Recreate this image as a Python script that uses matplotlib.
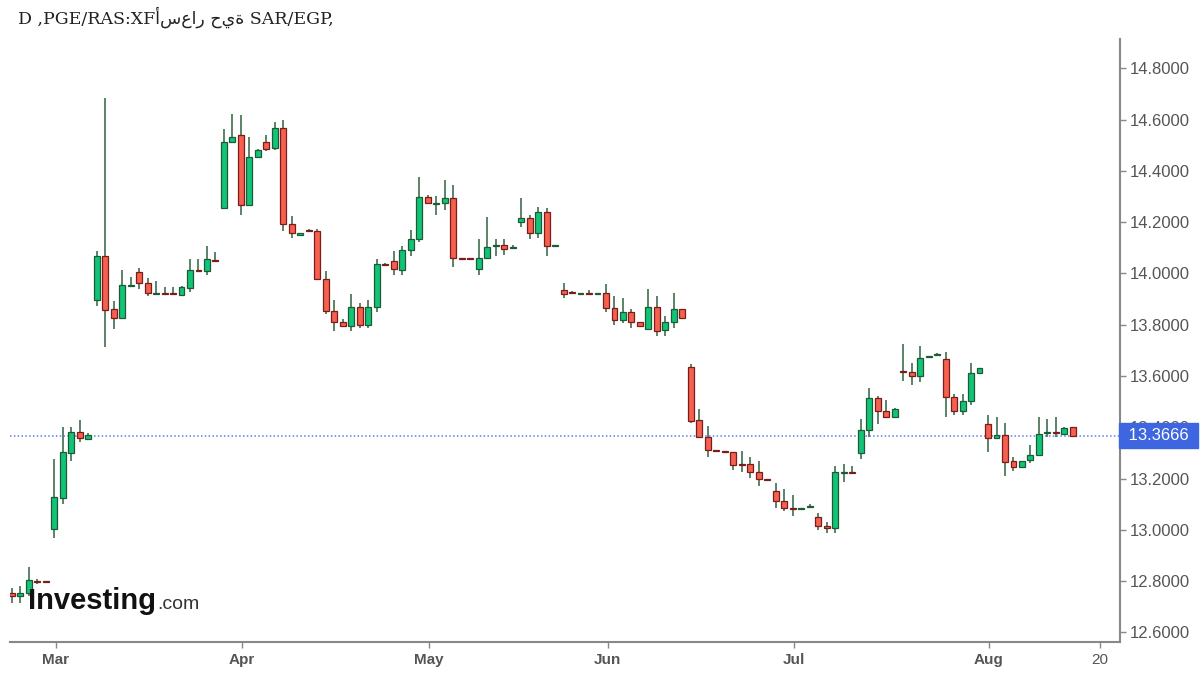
import matplotlib.pyplot as plt
from matplotlib.transforms import blended_transform_factory

# daily candles, one per trading day (index = trading-day number)
opens = [12.753, 12.742, 12.753, 12.802, 12.799, 13.003, 13.123, 13.300, 13.383, 13.354,
         13.897, 14.067, 13.861, 13.826, 13.952, 14.004, 13.961, 13.920, 13.923, 13.923,
         13.915, 13.945, 14.014, 14.010, 14.054, 14.257, 14.514, 14.539, 14.267, 14.456,
         14.513, 14.488, 14.569, 14.192, 14.152, 14.170, 14.167, 13.980, 13.854, 13.809,
         13.796, 13.871, 13.800, 13.871, 14.038, 14.047, 14.014, 14.092, 14.136, 14.300,
         14.272, 14.273, 14.293, 14.060, 14.060, 14.017, 14.060, 14.106, 14.111, 14.100,
         14.199, 14.218, 14.156, 14.241, 14.108, 13.936, 13.925, 13.921, 13.925, 13.921,
         13.924, 13.865, 13.819, 13.848, 13.809, 13.783, 13.871, 13.779, 13.809, 13.861,
         13.636, 13.428, 13.363, 13.311, 13.306, 13.302, 13.256, 13.257, 13.224, 13.197,
         13.150, 13.111, 13.086, 13.082, 13.089, 13.049, 13.016, 13.008, 13.223, 13.226,
         13.298, 13.389, 13.514, 13.464, 13.442, 13.619, 13.617, 13.601, 13.673, 13.681,
         13.666, 13.519, 13.462, 13.501, 13.610, 13.413, 13.357, 13.370, 13.267, 13.244,
         13.274, 13.293, 13.377, 13.382, 13.374, 13.400]
highs = [12.772, 12.782, 12.854, 12.810, 12.800, 13.276, 13.400, 13.402, 13.429, 13.376,
         14.088, 14.686, 13.893, 14.013, 13.987, 14.022, 13.982, 13.970, 13.949, 13.949,
         13.950, 14.058, 14.058, 14.107, 14.082, 14.565, 14.623, 14.617, 14.534, 14.485,
         14.539, 14.591, 14.597, 14.224, 14.157, 14.175, 14.175, 14.010, 13.895, 13.822,
         13.919, 13.884, 13.895, 14.056, 14.040, 14.086, 14.107, 14.170, 14.378, 14.306,
         14.302, 14.365, 14.345, 14.062, 14.062, 14.136, 14.222, 14.134, 14.134, 14.110,
         14.296, 14.227, 14.261, 14.257, 14.112, 13.962, 13.930, 13.925, 13.936, 13.925,
         13.958, 13.913, 13.903, 13.861, 13.810, 13.939, 13.913, 13.835, 13.922, 13.862,
         13.646, 13.471, 13.404, 13.313, 13.308, 13.305, 13.306, 13.283, 13.267, 13.199,
         13.181, 13.159, 13.137, 13.087, 13.101, 13.064, 13.030, 13.250, 13.257, 13.250,
         13.432, 13.553, 13.523, 13.507, 13.475, 13.724, 13.649, 13.718, 13.680, 13.689,
         13.692, 13.529, 13.529, 13.649, 13.632, 13.448, 13.439, 13.415, 13.283, 13.270,
         13.332, 13.441, 13.432, 13.439, 13.400, 13.400]
lows = [12.715, 12.715, 12.742, 12.790, 12.795, 12.968, 13.101, 13.267, 13.341, 13.354,
        13.874, 13.712, 13.783, 13.826, 13.950, 13.939, 13.913, 13.918, 13.919, 13.919,
        13.913, 13.926, 14.006, 13.993, 14.048, 14.255, 14.510, 14.228, 14.267, 14.453,
        14.478, 14.482, 14.166, 14.140, 14.150, 14.165, 13.975, 13.841, 13.774, 13.794,
        13.774, 13.786, 13.786, 13.848, 14.032, 13.995, 13.995, 14.068, 14.121, 14.272,
        14.227, 14.247, 14.026, 14.055, 14.055, 13.995, 14.060, 14.067, 14.071, 14.100,
        14.183, 14.134, 14.140, 14.069, 14.106, 13.906, 13.921, 13.920, 13.920, 13.920,
        13.848, 13.800, 13.805, 13.789, 13.795, 13.783, 13.757, 13.757, 13.789, 13.827,
        13.417, 13.361, 13.285, 13.306, 13.301, 13.235, 13.227, 13.202, 13.172, 13.192,
        13.085, 13.072, 13.053, 13.080, 13.088, 13.001, 12.988, 12.988, 13.186, 13.222,
        13.276, 13.363, 13.413, 13.439, 13.441, 13.581, 13.565, 13.578, 13.670, 13.680,
        13.439, 13.448, 13.448, 13.487, 13.608, 13.305, 13.355, 13.211, 13.231, 13.242,
        13.260, 13.292, 13.361, 13.361, 13.372, 13.361]
closes = [12.741, 12.755, 12.805, 12.798, 12.796, 13.127, 13.302, 13.383, 13.357, 13.371,
          14.067, 13.858, 13.826, 13.954, 13.955, 13.961, 13.922, 13.922, 13.920, 13.920,
          13.948, 14.012, 14.010, 14.056, 14.050, 14.514, 14.532, 14.266, 14.456, 14.482,
          14.487, 14.569, 14.192, 14.156, 14.155, 14.166, 13.978, 13.852, 13.809, 13.796,
          13.871, 13.800, 13.871, 14.036, 14.034, 14.017, 14.092, 14.136, 14.300, 14.274,
          14.276, 14.293, 14.060, 14.057, 14.057, 14.060, 14.105, 14.110, 14.097, 14.105,
          14.218, 14.156, 14.241, 14.108, 14.111, 13.920, 13.922, 13.923, 13.921, 13.923,
          13.865, 13.819, 13.848, 13.809, 13.796, 13.871, 13.776, 13.809, 13.861, 13.828,
          13.425, 13.363, 13.311, 13.308, 13.303, 13.254, 13.253, 13.224, 13.198, 13.194,
          13.111, 13.085, 13.082, 13.086, 13.093, 13.016, 13.008, 13.224, 13.226, 13.223,
          13.389, 13.514, 13.462, 13.442, 13.471, 13.616, 13.601, 13.670, 13.677, 13.684,
          13.519, 13.462, 13.501, 13.610, 13.630, 13.357, 13.370, 13.266, 13.244, 13.267,
          13.293, 13.374, 13.380, 13.379, 13.398, 13.3666]

month_labels = ['Mar', 'Apr', 'May', 'Jun', 'Jul', 'Aug', '20']
month_pos = [5.16, 27.1, 49.1, 70.2, 92.1, 115.1, 128.2]
price_ticks = [12.6, 12.8, 13.0, 13.2, 13.4, 13.6, 13.8, 14.0, 14.2, 14.4, 14.6, 14.8]
last_price = closes[-1]
title = 'D ,PGE/RAS:XF' + 'أسعار حية' + ' SAR/EGP,'

up_face, up_edge = '#12c477', '#1d5a35'
dn_face, dn_edge = '#f5604f', '#7a1d1a'
wick_col = '#4e7a5e'

fig = plt.figure(figsize=(12, 6.75), dpi=100)
ax = fig.add_axes([0.008, 0.049, 0.925, 0.893])

x = list(range(len(opens)))
ax.vlines(x, lows, highs, color=wick_col, linewidth=1.3, zorder=2)
for i in x:
    o, c = opens[i], closes[i]
    up = c >= o
    bottom = min(o, c)
    h = max(abs(c - o), 0.004)
    ax.bar(i, h, bottom=bottom, width=0.7,
           color=up_face if up else dn_face,
           edgecolor=up_edge if up else dn_edge, linewidth=0.9, zorder=3)

ax.axhline(last_price, color='#5b7cf0', linewidth=1.1, linestyle=(0, (1, 1.5)), zorder=1)

ax.set_xlim(-0.25, 130.5)
ax.set_ylim(12.563, 14.914)

ax.yaxis.tick_right()
ax.set_yticks(price_ticks)
ax.set_yticklabels(['%.4f' % v for v in price_ticks])
ax.tick_params(axis='y', colors='#888888', labelcolor='#555555', labelsize=12,
               length=4, width=1, pad=3)
for lab in ax.get_yticklabels():
    lab.set_fontfamily('Liberation Sans')

ax.set_xticks(month_pos)
ax.set_xticklabels(month_labels)
ax.tick_params(axis='x', colors='#888888', labelcolor='#555555', labelsize=11,
               length=4, width=1, pad=4)
for lab in ax.get_xticklabels():
    lab.set_fontfamily('Liberation Sans')
    if lab.get_text() != '20':
        lab.set_fontweight('bold')

for side in ['top', 'left']:
    ax.spines[side].set_visible(False)
for side in ['bottom', 'right']:
    ax.spines[side].set_color('#888888')
    ax.spines[side].set_linewidth(1.5)

# last price label on the price axis
trans = blended_transform_factory(ax.transAxes, ax.transData)
ax.text(1.004, last_price, ' 13.3666 ', transform=trans, va='center', ha='left',
        color='white', fontsize=12, family='Liberation Sans', zorder=10, clip_on=False,
        bbox=dict(boxstyle='square,pad=0.3', facecolor='#3d66e0', edgecolor='#3d66e0'))

# watermark
ax.text(0.017, 0.054, 'Investing', transform=ax.transAxes, fontsize=21, fontweight='bold',
        color='#111111', family='Liberation Sans', zorder=6)
ax.text(0.133, 0.054, '.com', transform=ax.transAxes, fontsize=14,
        color='#333333', family='Liberation Sans', zorder=6)

fig.text(0.015, 0.974, title, fontsize=12.5, va='center', ha='left', color='#222222',
         family=['DejaVu Serif', 'DejaVu Sans'])

fig.savefig('out.png', dpi=100)
